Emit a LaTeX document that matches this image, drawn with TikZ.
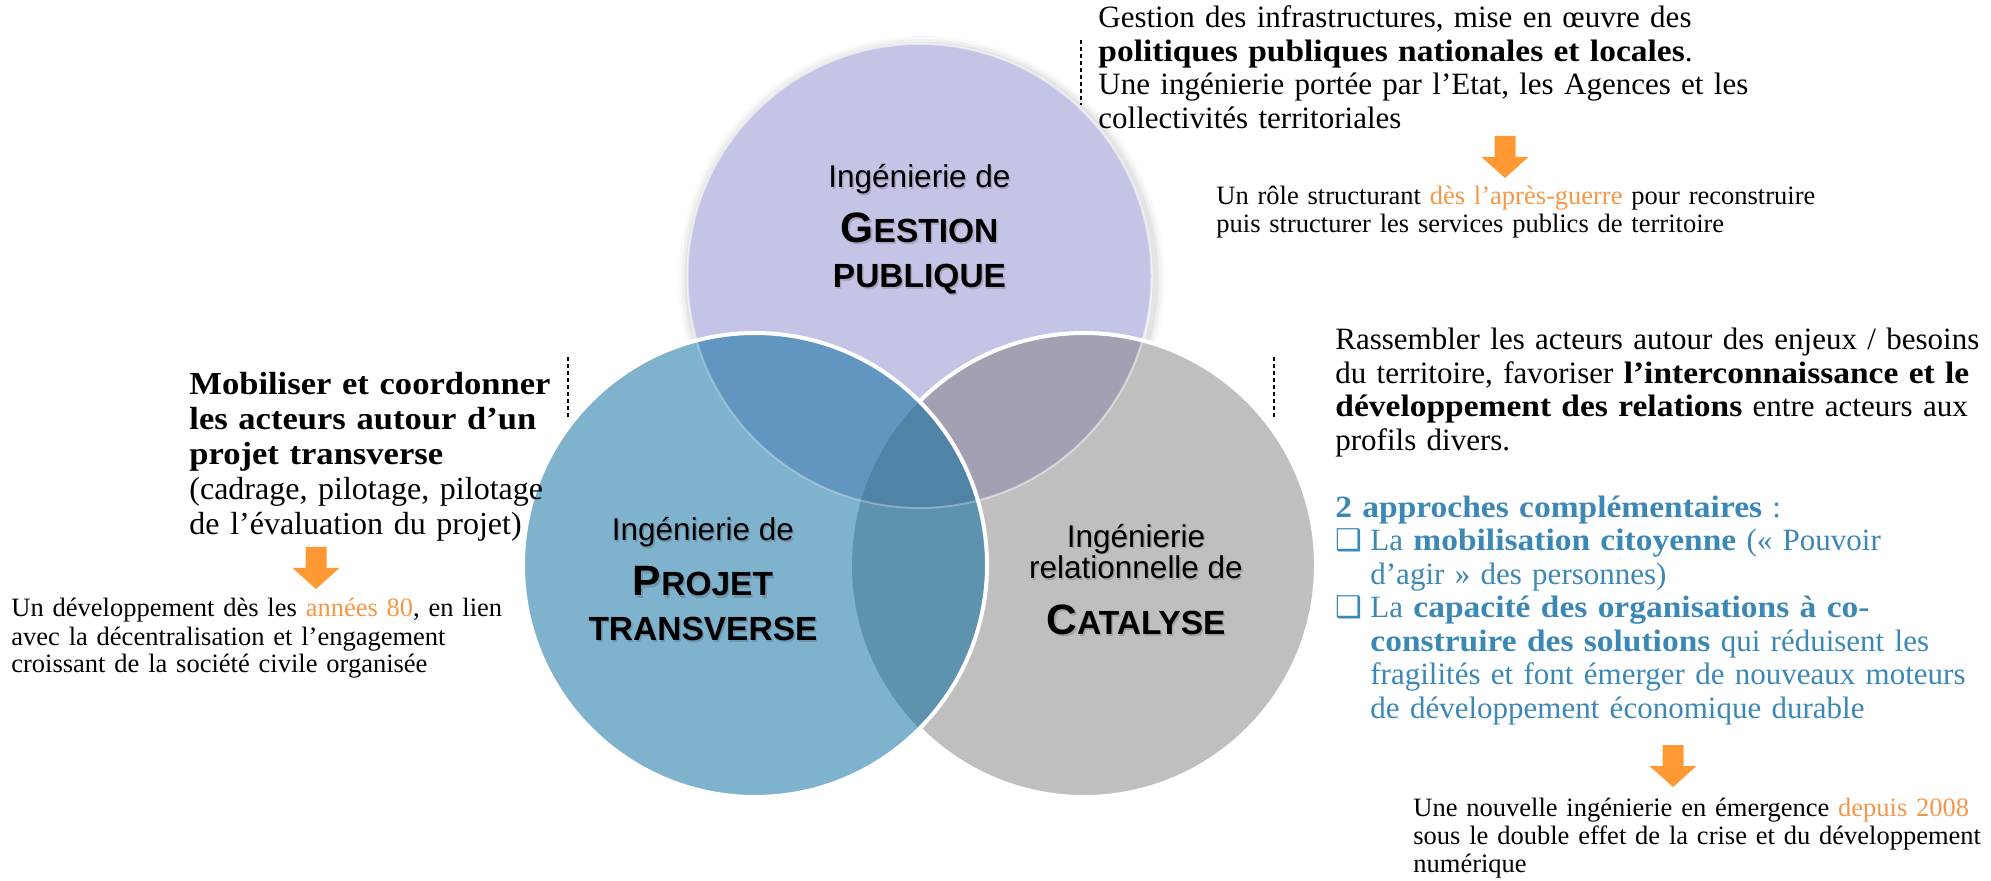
\documentclass[tikz,border=0pt]{standalone}
\usepackage{fontspec}
\setmainfont{Liberation Serif}[BoldFeatures={FakeStretch=1.08}]
\newfontfamily\arialfont{Liberation Sans}
\newfontfamily\dejavufont{DejaVu Sans}

\definecolor{gestionfill}{HTML}{C4C4E6}
\definecolor{projetfill}{HTML}{7FB2CC}
\definecolor{catalysefill}{HTML}{BFBFBF}
\definecolor{gpfill}{HTML}{6196C0}
\definecolor{gcfill}{HTML}{A2A0B2}
\definecolor{pcfill}{HTML}{5E93B0}
\definecolor{gpcfill}{HTML}{5084A6}
\definecolor{arroworange}{HTML}{FF9933}
\definecolor{textorange}{HTML}{F79646}
\definecolor{textblue}{HTML}{3B88B5}

\newcommand{\hlorange}[1]{\textcolor{textorange}{#1}}
\newcommand{\vennsc}[2]{{\fontsize{21.25pt}{24pt}\selectfont #1}{\fontsize{16.75pt}{20pt}\selectfont #2}}
\newcommand{\boxitem}{\makebox[17.5pt][l]{\dejavufont\fontsize{15pt}{15pt}\selectfont ❑}}
\newcommand{\vennline}[5]{%
  \node[#4,text=black,opacity=0.15] at ({#2+1.5},{#3+2}) {#5};
  \node[#4] (#1) at (#2,#3) {#5};}

\begin{document}
\begin{tikzpicture}[x=0.5pt,y=-0.5pt,line join=round,
  venn label/.style={font=\arialfont\fontsize{15.75pt}{18pt}\selectfont,anchor=base,inner sep=0pt},
  venn title/.style={font=\arialfont\bfseries,anchor=base,inner sep=0pt},
  main text/.style={font=\fontsize{15.5pt}{16.75pt}\selectfont,anchor=base west,inner sep=0pt,align=left,text width=360pt},
  small text/.style={font=\fontsize{13.25pt}{14pt}\selectfont,anchor=base west,inner sep=0pt,align=left,text width=320pt},
  dash line/.style={line width=1pt,dash pattern=on 2pt off 1.5pt},
  blockarrow/.pic={\fill[arroworange] (-10.5,0) -- (10.5,0) -- (10.5,21) -- (23.5,21) -- (0,42) -- (-23.5,21) -- (-10.5,21) -- cycle;}]
\useasboundingbox (0,0) rectangle (1991,881);
\def\vennr{116pt}
% centres des trois cercles
\coordinate (cG) at (919.5,276);
\coordinate (cP) at (755,565);
\coordinate (cC) at (1084,565);

% ombre du cercle du haut
\foreach \w/\o in {9/0.025,6/0.035,3/0.05}
  \draw[black,opacity=\o,line width=\w pt] ([shift={(2,3)}]cG) circle (\vennr+1pt);

% gestion et catalyse
\fill[gestionfill] (cG) circle (\vennr);
\fill[catalysefill] (cC) circle (\vennr);
\begin{scope}
  \clip (cC) circle (\vennr);
  \fill[gcfill] (cG) circle (\vennr);
\end{scope}
\draw[white,opacity=0.5,line width=1pt] (cG) circle (\vennr);
\draw[white,line width=2pt] (cC) circle (\vennr);

% projet et recouvrements
\fill[projetfill] (cP) circle (\vennr);
\begin{scope}
  \clip (cP) circle (\vennr);
  \fill[gpfill] (cG) circle (\vennr);
  \fill[pcfill] (cC) circle (\vennr);
  \clip (cC) circle (\vennr);
  \fill[gpcfill] (cG) circle (\vennr);
\end{scope}
\begin{scope}
  \clip (cP) circle (\vennr);
  \draw[white,opacity=0.3,line width=1pt] (cG) circle (\vennr);
\end{scope}
\draw[white,line width=2pt] (cP) circle (\vennr);

% titres des cercles
\vennline{gestionA}{919.5}{188}{venn label}{Ingénierie de}
\vennline{gestionB}{919.5}{243}{venn title}{\vennsc{G}{ESTION}}
\vennline{gestionC}{919.5}{288}{venn title}{\vennsc{}{PUBLIQUE}}
\vennline{projetA}{703}{541}{venn label}{Ingénierie de}
\vennline{projetB}{703}{596}{venn title}{\vennsc{P}{ROJET}}
\vennline{projetC}{703}{640}{venn title}{\vennsc{}{TRANSVERSE}}
\vennline{catalyseA}{1136}{547}{venn label}{Ingénierie}
\vennline{catalyseB}{1136}{579}{venn label}{relationnelle de}
\vennline{catalyseC}{1136}{634}{venn title}{\vennsc{C}{ATALYSE}}

% traits pointilles
\draw[dash line] (1081,40) -- (1081,105);
\draw[dash line] (567.5,357) -- (567.5,420);
\draw[dash line] (1274,357) -- (1274,420);

% fleches
\pic at (1505,136) {blockarrow};
\pic at (316,547) {blockarrow};
\pic at (1673,745) {blockarrow};

% textes
\node[main text] (gestiontxt) at (1098,28) {Gestion des infrastructures, mise en œuvre des\\
  \textbf{politiques publiques nationales et locales}.\\
  Une ingénierie portée par l’Etat, les Agences et les\\
  collectivités territoriales};
\node[small text] (gestionnote) at (1216,205) {Un rôle structurant \hlorange{dès l’après-guerre} pour reconstruire\\
  puis structurer les services publics de territoire};

\node[main text,font=\fontsize{16pt}{17.5pt}\selectfont] (projettxt) at (189,395) {\textbf{Mobiliser et coordonner}\\
  \textbf{les acteurs autour d’un}\\
  \textbf{projet transverse}\\
  (cadrage, pilotage, pilotage\\
  de l’évaluation du projet)};
\node[small text] (projetnote) at (11,617) {Un développement dès les \hlorange{années 80}, en lien\\
  avec la décentralisation et l’engagement\\
  croissant de la société civile organisée};

\node[main text] (catalysetxt) at (1335,350) {Rassembler les acteurs autour des enjeux / besoins\\
  du territoire, favoriser \textbf{l’interconnaissance et le}\\
  \textbf{développement des relations} entre acteurs aux\\
  profils divers.\\[16.75pt]
  \color{textblue}\textbf{2 approches complémentaires} :\\
  \boxitem La \textbf{mobilisation citoyenne} (« Pouvoir\\
  \hspace*{17.5pt}d’agir » des personnes)\\
  \boxitem La \textbf{capacité des organisations à co-}\\
  \hspace*{17.5pt}\textbf{construire des solutions} qui réduisent les\\
  \hspace*{17.5pt}fragilités et font émerger de nouveaux moteurs\\
  \hspace*{17.5pt}de développement économique durable};
\node[small text] (catalysenote) at (1413,816) {Une nouvelle ingénierie en émergence \hlorange{depuis 2008}\\
  sous le double effet de la crise et du développement\\
  numérique};
\end{tikzpicture}
\end{document}
